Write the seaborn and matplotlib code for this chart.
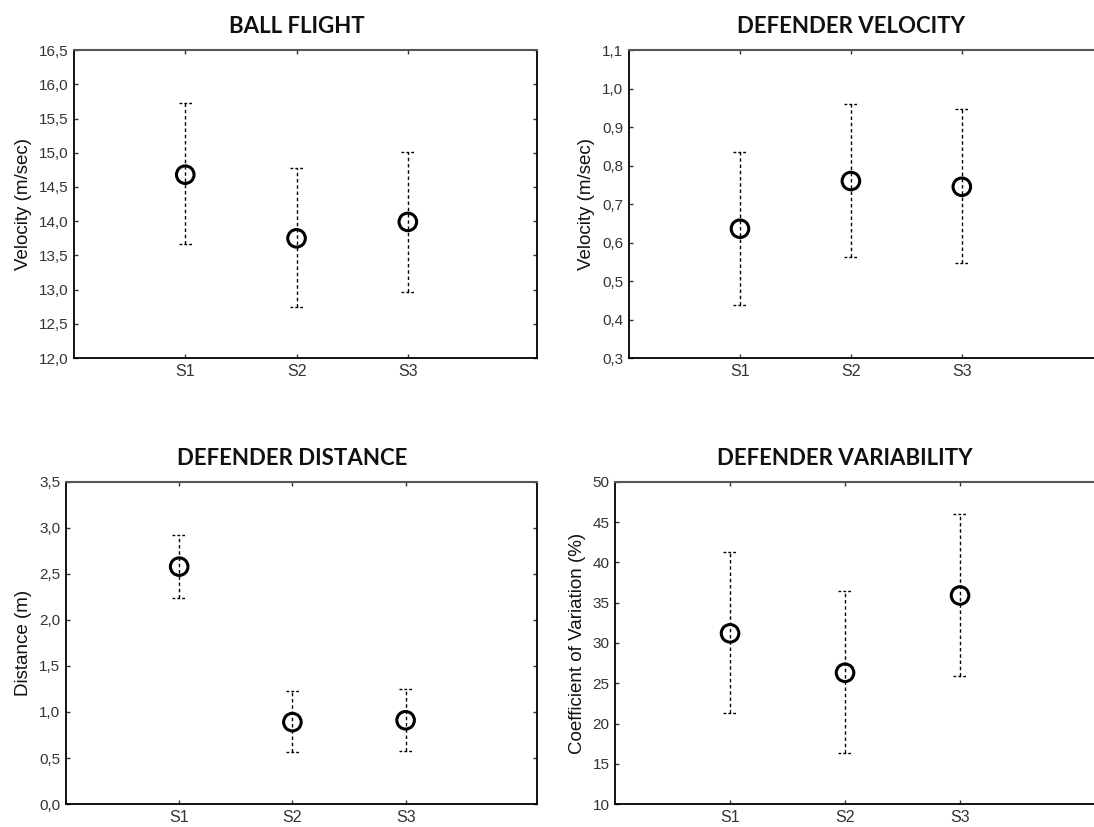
import numpy as np
import pandas as pd
import matplotlib
matplotlib.use("Agg")
import matplotlib.pyplot as plt
import seaborn as sns

sns.set_theme(style="white")
plt.rcParams['font.family'] = ['Liberation Sans', 'DejaVu Sans']

categories = ["S1", "S2", "S3"]

ball_mean = [14.68, 13.75, 13.99]
ball_low = [13.67, 12.74, 12.97]
ball_high = [15.72, 14.78, 15.01]

vel_mean = [0.636, 0.760, 0.745]
vel_low = [0.437, 0.562, 0.547]
vel_high = [0.835, 0.960, 0.946]

dist_mean = [2.58, 0.89, 0.91]
dist_low = [2.24, 0.57, 0.58]
dist_high = [2.92, 1.23, 1.25]

cv_mean = [31.2, 26.3, 35.9]
cv_low = [21.3, 16.3, 25.9]
cv_high = [41.3, 36.4, 46.0]

panels = [
    dict(title="BALL FLIGHT", ylabel="Velocity (m/sec)", mean=ball_mean, low=ball_low, high=ball_high,
         ylim=(12.0, 16.5), yticks=np.arange(12.0, 16.51, 0.5), fmt="{:.1f}",
         pos=[0.0676, 0.567, 0.4232, 0.3724], xmax=4.16),
    dict(title="DEFENDER VELOCITY", ylabel="Velocity (m/sec)", mean=vel_mean, low=vel_low, high=vel_high,
         ylim=(0.3, 1.1), yticks=np.arange(0.3, 1.101, 0.1), fmt="{:.1f}",
         pos=[0.575, 0.567, 0.436, 0.3724], xmax=4.3),
    dict(title="DEFENDER DISTANCE", ylabel="Distance (m)", mean=dist_mean, low=dist_low, high=dist_high,
         ylim=(0.0, 3.5), yticks=np.arange(0.0, 3.51, 0.5), fmt="{:.1f}",
         pos=[0.0603, 0.0278, 0.4305, 0.3894], xmax=4.16),
    dict(title="DEFENDER VARIABILITY", ylabel="Coefficient of Variation (%)", mean=cv_mean, low=cv_low, high=cv_high,
         ylim=(10, 50), yticks=np.arange(10, 50.1, 5), fmt="{:.0f}",
         pos=[0.5622, 0.0278, 0.452, 0.3894], xmax=4.3),
]

fig = plt.figure(figsize=(10.94, 8.27), dpi=100)

for p in panels:
    ax = fig.add_axes(p["pos"])
    df = pd.DataFrame({"cond": categories, "mean": p["mean"], "low": p["low"], "high": p["high"]})
    x = np.arange(1, len(categories) + 1)
    df["x"] = x
    # error bars
    ax.vlines(df["x"], df["low"], df["high"], colors="black", linewidth=1.0,
              linestyles=(0, (2.5, 2.0)), zorder=2)
    cw = 0.06
    ax.hlines(df["high"], df["x"] - cw, df["x"] + cw, colors="black", linewidth=1.0,
              linestyles=(0, (2.0, 1.5)), zorder=2)
    ax.hlines(df["low"], df["x"] - cw, df["x"] + cw, colors="black", linewidth=1.0,
              linestyles=(0, (2.0, 1.5)), zorder=2)
    sns.scatterplot(data=df, x="x", y="mean", ax=ax, marker="o", s=160,
                    facecolor="none", edgecolor="black", linewidth=2.2, zorder=3, legend=False)
    ax.set_xlim(0, p["xmax"])
    ax.set_ylim(*p["ylim"])
    ax.set_xticks(x)
    ax.set_xticklabels(categories, fontsize=11.5, color="#222222")
    ax.set_yticks(p["yticks"])
    ax.set_yticklabels([p["fmt"].format(v).replace(".", ",") for v in p["yticks"]],
                       fontsize=11, color="#333333")
    ax.tick_params(direction="in", length=3, width=1, top=True, right=True,
                   bottom=True, left=True, pad=4, colors="#333333")
    ax.set_xlabel("")
    ax.set_ylabel(p["ylabel"], fontsize=13.5, color="#111111", labelpad=5)
    t = ax.set_title(p["title"], fontsize=16, fontweight="bold", family=["Lato", "DejaVu Sans"],
                     color="#111111", pad=12)
    t.set_x(2.0 / p["xmax"])
    for side in ["left", "bottom", "right"]:
        ax.spines[side].set_color("black")
        ax.spines[side].set_linewidth(1.3)
    ax.spines["top"].set_color("#555555")
    ax.spines["top"].set_linewidth(1.5)
    ax.grid(False)

fig.savefig("out.png", dpi=100, facecolor="white")
